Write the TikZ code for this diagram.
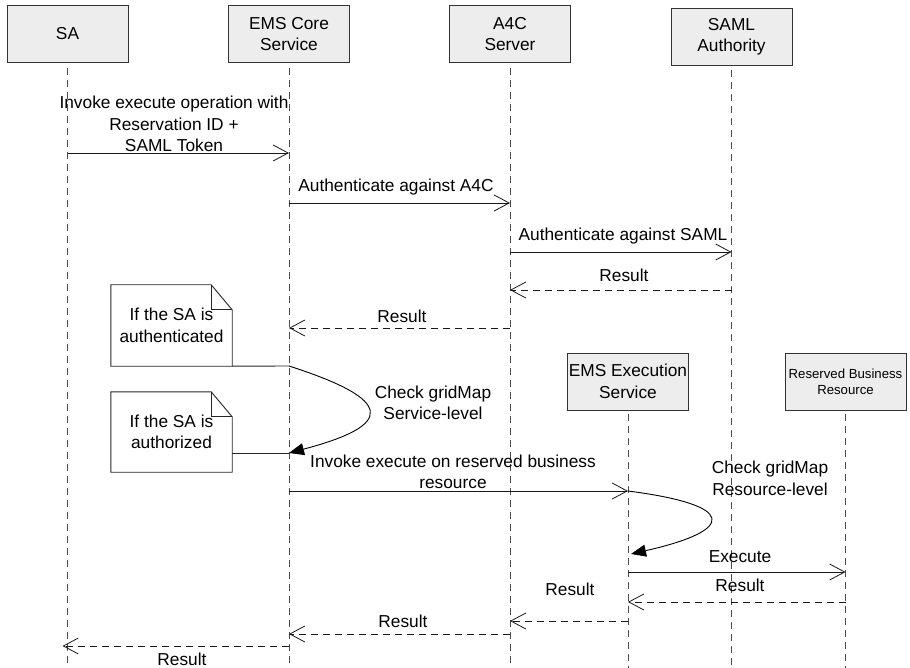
\documentclass[tikz,border=0pt]{standalone}
\usepackage{fontspec}
\setmainfont{Liberation Sans}
\usetikzlibrary{arrows.meta,calc}

\begin{document}
\begin{tikzpicture}[x=1pt,y=-1pt,
  every node/.style={font=\fontsize{17.3}{21.5}\selectfont, align=center, inner sep=0pt},
  actor/.style={draw=black!80, fill=black!7, line width=0.9pt, minimum width=121pt, minimum height=57pt},
  smallactor/.style={actor, font=\fontsize{13.2}{16}\selectfont},
  lifeline/.style={draw=black!70, line width=0.9pt, dash pattern=on 7pt off 5pt},
  msg/.style={draw=black!90, line width=0.9pt, -{Straight Barb[length=15pt,width=16pt,line width=0.8pt]}},
  reply/.style={msg, dash pattern=on 7pt off 5pt},
  selfmsg/.style={draw=black, line width=0.9pt, -{Triangle[length=15pt,width=12pt]}},
  notebox/.style={minimum width=121pt},
  noteline/.style={draw=black!85, line width=0.9pt}
]
\useasboundingbox (0,0) rectangle (910,668);

% participants
\node[actor] (sa)   at (67.5,34)   {SA};
\node[actor] (core) at (289,34)    {EMS Core\\Service};
\node[actor] (a4c)  at (510,34)    {A4C\\Server};
\node[actor] (saml) at (731.5,37)  {SAML\\Authority};
\node[actor] (exec) at (628,381.5) {EMS Execution\\Service};
\node[smallactor] (rbr) at (845.5,381.5) {Reserved Business\\Resource};

% lifelines
\coordinate (saend)   at (sa |- 0,668);
\coordinate (coreend) at (core |- 0,668);
\coordinate (a4cend)  at (a4c |- 0,668);
\coordinate (samlend) at (saml |- 0,668);
\coordinate (execend) at (exec |- 0,668);
\coordinate (rbrend)  at (rbr |- 0,668);
\draw[lifeline] ([yshift=-5pt]sa.south)   -- (saend);
\draw[lifeline] ([yshift=-5pt]core.south) -- (coreend);
\draw[lifeline] ([yshift=-5pt]a4c.south)  -- (a4cend);
\draw[lifeline] ([yshift=-4pt]saml.south) -- (samlend);
\draw[lifeline] ([yshift=-4pt]exec.south) -- (execend);
\draw[lifeline] ([yshift=-4pt]rbr.south)  -- (rbrend);

% request / authentication
\draw[msg] (sa |- 0,153) -- (core |- 0,153);
\node (l1) at (174,124) {Invoke execute operation with\\Reservation ID +\\SAML Token};

\draw[msg] (core |- 0,203) -- (a4c |- 0,203);
\node (l2) at (396,187) {Authenticate against A4C};

\draw[msg] (a4c |- 0,252) -- (saml |- 0,252);
\node (l3) at (623,236) {Authenticate against SAML};

\draw[reply] (saml |- 0,290) -- (a4c |- 0,290);
\node (l4) at (624,275) {Result};

\draw[reply] (a4c |- 0,328) -- (core |- 0,328);
\node (l5) at (402,316) {Result};

% notes
\node[notebox, minimum height=81pt] (n1) at (171.5,325.5) {If the SA is\\authenticated};
\draw[noteline] ($(n1.north east)+(-21,0)$) -- (n1.north west) -- (n1.south west)
  -- (n1.south east) -- ($(n1.north east)+(0,25)$) -- cycle;
\draw[noteline] ($(n1.north east)+(-21,0)$) -- ($(n1.north east)+(-21,25)$) -- ($(n1.north east)+(0,25)$);

\node[notebox, minimum height=80pt] (n2) at (171.5,432) {If the SA is\\authorized};
\draw[noteline] ($(n2.north east)+(-21,0)$) -- (n2.north west) -- (n2.south west)
  -- (n2.south east) -- ($(n2.north east)+(0,25)$) -- cycle;
\draw[noteline] ($(n2.north east)+(-21,0)$) -- ($(n2.north east)+(-21,25)$) -- ($(n2.north east)+(0,25)$);

\coordinate (chk1a) at (core |- 0,366);
\coordinate (chk1b) at (core |- 0,453);
\draw[noteline] (n1.south east) -- (chk1a);
\draw[noteline] (n2.east |- chk1b) -- (chk1b);

% service-level check
\draw[selfmsg] (chk1a) .. controls (395,400) and (395,425) .. (chk1b);
\node (l6) at (433,403) {Check gridMap\\Service-level};

% execution
\draw[msg] (core |- 0,491) -- (exec |- 0,491);
\node (l7) at (453,472) {Invoke execute on reserved business\\resource};

\coordinate (chk2a) at (exec |- 0,491);
\coordinate (chk2b) at ($(exec |- 0,554)+(3,0)$);
\draw[selfmsg] (chk2a) .. controls (737,505) and (737,530) .. (chk2b);
\node (l8) at (770,478.5) {Check gridMap\\Resource-level};

\draw[msg] (exec |- 0,572) -- (rbr |- 0,572);
\node (l9) at (740,557) {Execute};

\draw[reply] (rbr |- 0,602) -- (exec |- 0,602);
\node (l10) at (740,585) {Result};

\draw[reply] (exec |- 0,621) -- (a4c |- 0,621);
\node (l11) at (570,589) {Result};

\draw[reply] (a4c |- 0,634) -- (core |- 0,634);
\node (l12) at (403,621) {Result};

\draw[reply] (core |- 0,646) -- ($(sa |- 0,646)+(-5,0)$);
\node (l13) at (182,659) {Result};
\end{tikzpicture}
\end{document}
